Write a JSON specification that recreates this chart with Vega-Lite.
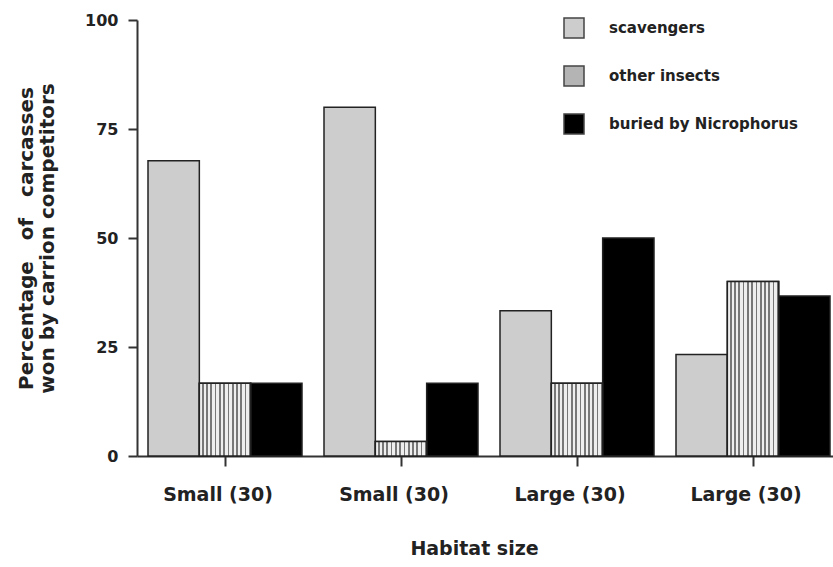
{
  "$schema": "https://vega.github.io/schema/vega-lite/v6.json",
  "width": 696,
  "height": 436,
  "autosize": {"type": "none"},
  "padding": {"left": 137, "top": 20, "right": 0, "bottom": 111},
  "background": "white",
  "config": {
    "view": {"stroke": null},
    "font": "DejaVu Sans",
    "axis": {"labelFont": "DejaVu Sans", "titleFont": "DejaVu Sans", "labelFontWeight": "bold", "titleFontWeight": "bold", "labelColor": "#222", "titleColor": "#222", "domainColor": "#333", "tickColor": "#333", "domainWidth": 2, "tickWidth": 2, "grid": false}
  },
  "data": {
    "values": [
      {"group": "g1", "category": "scavengers", "value": 67.7},
      {"group": "g1", "category": "other insects", "value": 16.7},
      {"group": "g1", "category": "buried by Nicrophorus", "value": 16.7},
      {"group": "g2", "category": "scavengers", "value": 80.0},
      {"group": "g2", "category": "other insects", "value": 3.3},
      {"group": "g2", "category": "buried by Nicrophorus", "value": 16.7},
      {"group": "g3", "category": "scavengers", "value": 33.3},
      {"group": "g3", "category": "other insects", "value": 16.7},
      {"group": "g3", "category": "buried by Nicrophorus", "value": 50.0},
      {"group": "g4", "category": "scavengers", "value": 23.3},
      {"group": "g4", "category": "other insects", "value": 40.0},
      {"group": "g4", "category": "buried by Nicrophorus", "value": 36.7}
    ]
  },
  "encoding": {
    "x": {
      "field": "group", "type": "nominal", "sort": ["g1", "g2", "g3", "g4"],
      "scale": {"domain": ["g1", "g2", "g3", "g4"], "range": [0, 704], "paddingInner": 0.125, "paddingOuter": 0.0625},
      "axis": {
        "title": "Habitat size", "titleFontSize": 19, "titlePadding": 35, "titleX": 337,
        "labelExpr": "datum.value == 'g1' || datum.value == 'g2' ? 'Small (30)' : 'Large (30)'",
        "labelAngle": 0, "labelFontSize": 19, "labelPadding": 19, "labelOffset": -7, "tickSize": 10, "ticks": true
      }
    },
    "xOffset": {
      "field": "category", "type": "nominal",
      "scale": {"domain": ["scavengers", "other insects", "buried by Nicrophorus"], "paddingInner": 0, "paddingOuter": 0}
    },
    "y": {
      "field": "value", "type": "quantitative",
      "scale": {"domain": [0, 100], "nice": false},
      "axis": {
        "title": ["Percentage\u00a0\u00a0\u00a0of\u00a0\u00a0\u00a0carcasses", "won by carrion competitors"],
        "titleFontSize": 20, "titlePadding": 27, "titleLineHeight": 21,
        "values": [0, 25, 50, 75, 100], "labelFontSize": 16, "tickSize": 9, "labelPadding": 10
      }
    }
  },
  "layer": [
    {
      "mark": {"type": "bar", "stroke": "#222", "strokeWidth": 1.5},
      "encoding": {
        "fill": {
          "field": "category", "type": "nominal",
          "scale": {
            "domain": ["scavengers", "other insects", "buried by Nicrophorus"],
            "range": ["#cdcdcd", "#b4b4b4", "#000000"]
          },
          "legend": {
            "title": null, "orient": "none", "legendX": 426, "legendY": -3,
            "symbolType": "square", "symbolSize": 400, "symbolStrokeColor": "#444", "symbolStrokeWidth": 1.5,
            "rowPadding": 22, "labelOffset": 24, "labelFontSize": 15, "labelLimit": 400, "labelFontWeight": "bold", "labelColor": "#222", "labelFont": "DejaVu Sans"
          }
        }
      }
    },
    {
      "transform": [{"filter": "datum.category == 'other insects'"}],
      "mark": {
        "type": "bar", "stroke": "#222", "strokeWidth": 1.5,
        "fill": {"gradient": "linear", "x1": 0, "y1": 0, "x2": 1, "y2": 0, "stops": [
          {"offset": 0, "color": "#eeeeee"}, {"offset": 0.05, "color": "#eeeeee"}, {"offset": 0.05, "color": "#777777"}, {"offset": 0.083, "color": "#777777"},
          {"offset": 0.083, "color": "#eeeeee"}, {"offset": 0.133, "color": "#eeeeee"}, {"offset": 0.133, "color": "#777777"}, {"offset": 0.167, "color": "#777777"},
          {"offset": 0.167, "color": "#eeeeee"}, {"offset": 0.217, "color": "#eeeeee"}, {"offset": 0.217, "color": "#777777"}, {"offset": 0.25, "color": "#777777"},
          {"offset": 0.25, "color": "#eeeeee"}, {"offset": 0.3, "color": "#eeeeee"}, {"offset": 0.3, "color": "#777777"}, {"offset": 0.333, "color": "#777777"},
          {"offset": 0.333, "color": "#eeeeee"}, {"offset": 0.383, "color": "#eeeeee"}, {"offset": 0.383, "color": "#777777"}, {"offset": 0.417, "color": "#777777"},
          {"offset": 0.417, "color": "#eeeeee"}, {"offset": 0.467, "color": "#eeeeee"}, {"offset": 0.467, "color": "#777777"}, {"offset": 0.5, "color": "#777777"},
          {"offset": 0.5, "color": "#eeeeee"}, {"offset": 0.55, "color": "#eeeeee"}, {"offset": 0.55, "color": "#777777"}, {"offset": 0.583, "color": "#777777"},
          {"offset": 0.583, "color": "#eeeeee"}, {"offset": 0.633, "color": "#eeeeee"}, {"offset": 0.633, "color": "#777777"}, {"offset": 0.667, "color": "#777777"},
          {"offset": 0.667, "color": "#eeeeee"}, {"offset": 0.717, "color": "#eeeeee"}, {"offset": 0.717, "color": "#777777"}, {"offset": 0.75, "color": "#777777"},
          {"offset": 0.75, "color": "#eeeeee"}, {"offset": 0.8, "color": "#eeeeee"}, {"offset": 0.8, "color": "#777777"}, {"offset": 0.833, "color": "#777777"},
          {"offset": 0.833, "color": "#eeeeee"}, {"offset": 0.883, "color": "#eeeeee"}, {"offset": 0.883, "color": "#777777"}, {"offset": 0.917, "color": "#777777"},
          {"offset": 0.917, "color": "#eeeeee"}, {"offset": 0.967, "color": "#eeeeee"}, {"offset": 0.967, "color": "#777777"}, {"offset": 1, "color": "#777777"}
        ]}
      }
    }
  ]
}
